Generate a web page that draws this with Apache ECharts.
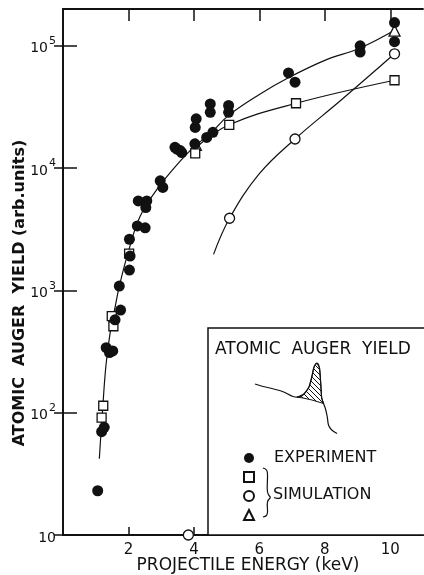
<!DOCTYPE html>
<html>
<head>
<meta charset="utf-8">
<title>Atomic Auger yield</title>
<script src="https://cdn.jsdelivr.net/npm/echarts@6/dist/echarts.min.js"></script>
<style>
  html, body { margin: 0; padding: 0; background: #fff; }
  #main { width: 424px; height: 575px; }
</style>
</head>
<body>
<div id="main"></div>
<script>
// values: [energy keV, yield arb. units]
let experiment = [
    [1.06, 23], [1.18, 70], [1.26, 76], [1.32, 340], [1.42, 310], [1.52, 320],
    [1.59, 575], [1.76, 690], [1.72, 1085], [2.03, 1467], [2.05, 1910], [2.03, 2620],
    [2.27, 3365], [2.51, 3250], [2.30, 5390], [2.56, 5390], [2.53, 4760],
    [2.97, 7870], [3.05, 6950], [3.42, 14800], [3.48, 14300], [3.58, 13900], [3.63, 13400],
    [4.04, 21500], [4.07, 25300], [4.03, 15800], [4.39, 17800], [4.58, 19600],
    [4.5, 33500], [4.5, 28600], [5.06, 32500], [5.06, 28600],
    [6.89, 60000], [7.09, 50400], [9.08, 100000], [9.08, 88800],
    [10.13, 155000], [10.13, 108000]
]
let simSquare = [[1.23, 114], [1.18, 91], [1.49, 616], [1.54, 509], [2.02, 2000], [4.04, 13200], [5.08, 22600], [7.12, 33900], [10.13, 52300]]
let simCircle = [[3.83, 10], [5.09, 3890], [7.09, 17300], [10.13, 86000]]
let simTriangle = [[4.06, 15500], [10.13, 133000]]

// drawn curves
let curveExp = [
    [1.11, 42], [1.16, 68], [1.21, 106], [1.31, 240], [1.44, 450], [1.59, 725], [1.72, 1080],
    [1.98, 2000], [2.35, 4000], [2.87, 6700], [3.63, 11800], [4.04, 15200], [4.55, 19800],
    [5.06, 27000], [6.0, 40000], [6.9, 55000], [8.0, 76000], [9.08, 96000], [10.13, 134000]
]
let curveSquare = [[4.1, 15000], [5.08, 22600], [7.12, 33900], [10.13, 52300]]
let curveCircle = [[4.6, 1970], [5.09, 3890], [6.0, 9000], [7.09, 17300], [8.5, 36000], [10.13, 86000]]

let xTicks = [2, 4, 6, 8, 10]
let yTicks = [10, 100, 1000, 10000, 100000]

let font = 'DejaVu Sans'
let ink = '#111'

// hatch pattern for the inset peak
let hatch = document.createElement('canvas')
hatch.width = 5
hatch.height = 5
let hctx = hatch.getContext('2d')
hctx.strokeStyle = '#111'
hctx.lineWidth = 1
hctx.beginPath()
hctx.moveTo(0, 0); hctx.lineTo(5, 5)
hctx.moveTo(-1, 4); hctx.lineTo(1, 6)
hctx.moveTo(4, -1); hctx.lineTo(6, 1)
hctx.stroke()

let chart = echarts.init(document.getElementById('main'))

function curve(data) {
    return {
        type: 'line', data: data, smooth: 0.4, symbol: 'none', silent: true,
        lineStyle: { color: ink, width: 1.2 }, z: 1
    }
}
function openMarks(name, symbol, size, data) {
    return {
        name: name, type: 'scatter', data: data, symbol: symbol, symbolSize: size,
        itemStyle: { color: '#fff', borderColor: ink, borderWidth: 1.3, opacity: 1 }, z: 2
    }
}

chart.setOption({
    backgroundColor: '#fff',
    animation: false,
    textStyle: { fontFamily: font, color: ink },
    grid: { left: 63, right: 1, top: 9, bottom: 40, outerBoundsMode: 'none' },
    legend: {
        orient: 'vertical', left: 238, top: 444, z: 10,
        itemWidth: 10, itemHeight: 10, itemGap: 1,
        data: [
            { name: 'EXPERIMENT', icon: 'circle' },
            { name: 'SIMULATION □', icon: 'rect' },
            { name: 'SIMULATION ○', icon: 'circle' },
            { name: 'SIMULATION △', icon: 'triangle' }
        ],
        formatter: function (name) { return name === 'EXPERIMENT' ? name : ' ' },
        textStyle: { fontFamily: font, fontSize: 16, color: ink, lineHeight: 18, padding: [0, 0, 0, 15] },
        selectedMode: false
    },
    xAxis: [
        {
            type: 'value', min: 0, max: 11,
            name: 'PROJECTILE ENERGY (keV)', nameLocation: 'middle', nameGap: 22, nameMoveOverlap: false,
            nameTextStyle: { fontSize: 17, color: ink, padding: [0, 0, 0, 10] },
            axisLine: { lineStyle: { color: ink, width: 1.8 } },
            axisTick: { inside: true, length: 8, customValues: xTicks, lineStyle: { width: 1.5 } },
            axisLabel: { customValues: xTicks, margin: 8, fontSize: 15, color: ink },
            splitLine: { show: false }
        },
        {
            type: 'value', min: 0, max: 11, position: 'top',
            axisLine: { lineStyle: { color: ink, width: 1.8 } },
            axisTick: { inside: true, length: 12, customValues: xTicks, lineStyle: { width: 1.5 } },
            axisLabel: { show: false },
            splitLine: { show: false }
        }
    ],
    yAxis: [
        {
            type: 'log', logBase: 10, min: 10, max: 200000,
            name: 'ATOMIC  AUGER  YIELD (arb.units)', nameLocation: 'middle', nameGap: 35, nameMoveOverlap: false,
            nameTextStyle: { fontSize: 16, fontWeight: 'bold', color: ink, padding: [0, 42, 0, 0] },
            axisLine: { lineStyle: { color: ink, width: 1.8 } },
            axisTick: { inside: true, length: 14, customValues: yTicks, lineStyle: { width: 1.5 } },
            axisLabel: {
                customValues: yTicks, margin: 7, color: ink,
                formatter: function (v) {
                    let n = Math.round(Math.log10(v))
                    return n === 1 ? '{b|10}' : '{b|10}{s|' + n + '}'
                },
                rich: {
                    b: { fontSize: 14, color: ink, fontFamily: font, verticalAlign: 'bottom', lineHeight: 20 },
                    s: { fontSize: 11, color: ink, fontFamily: font, verticalAlign: 'top', lineHeight: 20, padding: [0, 0, 0, 1] }
                }
            },
            splitLine: { show: false }
        },
        {
            type: 'log', logBase: 10, min: 10, max: 200000, position: 'right',
            axisLine: { lineStyle: { color: ink, width: 1.8 } },
            axisTick: { inside: true, length: 9, customValues: yTicks, lineStyle: { width: 1.5 } },
            axisLabel: { show: false },
            splitLine: { show: false }
        }
    ],
    series: [
        curve(curveExp),
        curve(curveSquare),
        curve(curveCircle),
        openMarks('SIMULATION △', 'triangle', 11, simTriangle),
        {
            name: 'EXPERIMENT', type: 'scatter', data: experiment, symbol: 'circle', symbolSize: 11,
            itemStyle: { color: ink, opacity: 1 }, z: 3
        },
        openMarks('SIMULATION □', 'rect', 9, simSquare),
        openMarks('SIMULATION ○', 'circle', 10, simCircle)
    ],
    graphic: [
        {
            type: 'rect', z: 5, shape: { x: 208, y: 328, width: 230, height: 207 },
            style: { fill: '#fff', stroke: ink, lineWidth: 1.5 }
        },
        {
            type: 'text', z: 6, x: 215, y: 350,
            style: { text: 'ATOMIC  AUGER  YIELD', fontSize: 17, fontFamily: font, fill: ink, verticalAlign: 'middle' }
        },
        {
            type: 'polygon', z: 6,
            shape: { points: [[297, 397.2], [304, 394], [309, 387], [312, 376], [314, 367], [317, 363], [319.5, 368], [320.7, 383], [321.7, 398], [323.5, 403.5], [312, 400], [303, 398]] },
            style: { fill: { image: hatch, repeat: 'repeat' }, stroke: ink, lineWidth: 1 }
        },
        {
            type: 'polyline', z: 7,
            shape: { smooth: 0.3, points: [[255, 384], [263, 386.5], [270, 388], [283, 391.7], [293, 396.5], [299, 397], [304, 394], [309, 387], [312, 376], [314, 367], [317, 363], [319.5, 368], [320.7, 383], [321.7, 398], [323.5, 403.5], [325.5, 409], [327.3, 417], [328.5, 425], [331.7, 430], [337, 433.5]] },
            style: { stroke: ink, lineWidth: 1.2, fill: null }
        },
        {
            type: 'polyline', z: 7,
            shape: { smooth: 0.4, points: [[263, 468], [266.5, 470], [267.5, 474], [267.5, 492], [270.5, 497.5]] },
            style: { stroke: ink, lineWidth: 1.2, fill: null }
        },
        {
            type: 'polyline', z: 7,
            shape: { smooth: 0.4, points: [[270.5, 497.5], [267.5, 502], [267.5, 512], [266.5, 515.5], [263, 517]] },
            style: { stroke: ink, lineWidth: 1.2, fill: null }
        },
        {
            type: 'text', z: 7, x: 273, y: 495,
            style: { text: 'SIMULATION', fontSize: 16, fontFamily: font, fill: ink, verticalAlign: 'middle' }
        }
    ]
})
</script>
</body>
</html>
